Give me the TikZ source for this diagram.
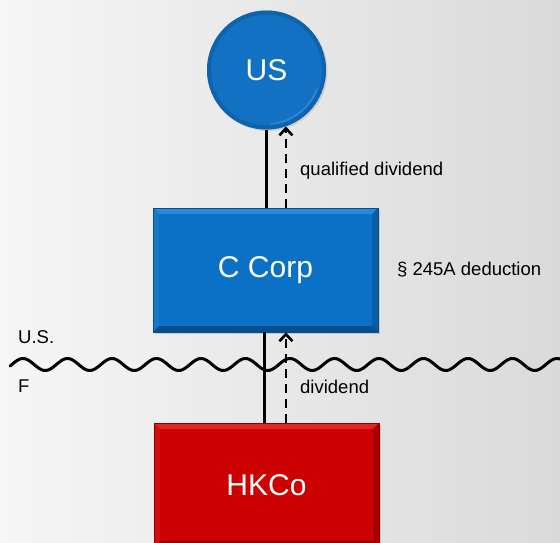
\documentclass[tikz,border=0pt]{standalone}
\usepackage{fontspec}
\setmainfont{Liberation Sans}
\usetikzlibrary{arrows.meta,shadows,calc}

\definecolor{bgleft}{HTML}{F6F6F6}
\definecolor{bgright}{HTML}{DADADA}
\definecolor{corpblue}{HTML}{0A71C6}
\definecolor{corpbluelight}{HTML}{2C88D8}
\definecolor{corpbluemid}{HTML}{1679CC}
\definecolor{corpbluedark}{HTML}{075DA6}
\definecolor{corpbluedeep}{HTML}{054F8E}
\definecolor{hkred}{HTML}{CC0202}
\definecolor{hkredlight}{HTML}{DE2626}
\definecolor{hkredmid}{HTML}{D40E0E}
\definecolor{hkreddark}{HTML}{A80000}
\definecolor{hkreddeep}{HTML}{8A0000}
\definecolor{usblue}{HTML}{1371C4}
\definecolor{usrim}{HTML}{0B5A9F}
\definecolor{ushigh}{HTML}{4A9CE0}

\tikzset{
  % rectangular entity with a bevelled edge
  bevelbox/.style n args={5}{
    rectangle, minimum width=225, minimum height=124, inner sep=0pt,
    fill=#1, draw=#5, line width=0.6pt, text=white,
    font=\fontsize{30}{34}\selectfont,
    drop shadow={opacity=0.3, shadow xshift=1.5pt, shadow yshift=-1.5pt},
    path picture={
      \def\bv{6}
      \coordinate (pnw) at (path picture bounding box.north west);
      \coordinate (pne) at (path picture bounding box.north east);
      \coordinate (psw) at (path picture bounding box.south west);
      \coordinate (pse) at (path picture bounding box.south east);
      \fill[#2] (pnw) -- (pne) -- ($(pne)+(-\bv,\bv)$) -- ($(pnw)+(\bv,\bv)$) -- cycle;
      \fill[#3] (pnw) -- ($(pnw)+(\bv,\bv)$) -- ($(psw)+(\bv,-\bv)$) -- (psw) -- cycle;
      \fill[#4] (pne) -- ($(pne)+(-\bv,\bv)$) -- ($(pse)+(-\bv,-\bv)$) -- (pse) -- cycle;
      \fill[#5] (psw) -- ($(psw)+(\bv,-\bv)$) -- ($(pse)+(-\bv,-\bv)$) -- (pse) -- cycle;
    }},
  country/.style={
    circle, minimum size=119, inner sep=0pt, fill=usblue, text=white,
    font=\fontsize{30}{34}\selectfont,
    drop shadow={opacity=0.25, shadow xshift=1.5pt, shadow yshift=-1.5pt},
    path picture={
      \draw[usrim, line width=4pt, opacity=0.6]
        (path picture bounding box.center) circle[radius=57.5];
      \draw[ushigh, line width=2pt, opacity=0.45]
        ($(path picture bounding box.center)+(20:54)$) arc[start angle=20, end angle=85, radius=54];
    }},
  label/.style={anchor=west, inner sep=0pt, text=black, font=\fontsize{18.5}{22}\selectfont},
  owns/.style={line width=2.6pt, black},
  flow/.style={line width=2.8pt, black, dash pattern=on 9pt off 6pt,
    -{Straight Barb[length=7pt, width=13pt, line width=2.6pt]}},
  border/.style={line width=3pt, black, line cap=round},
}

\begin{document}
\begin{tikzpicture}[x=1pt, y=-1pt]
  % backdrop
  \shade[left color=bgleft, right color=bgright] (0,0) rectangle (560,543);
  \useasboundingbox (0,0) rectangle (560,543);

  % U.S. / foreign divide
  \draw[border] plot[domain=10:560, samples=300, smooth]
    (\x, {364.5 - 6*cos((\x-23)/44.5*360)});
  \node[label] (lus) at (18,337) {U.S.};
  \node[label] (lf) at (18,386) {F};

  % entities
  \node[country] (us) at (266.5,70) {US};
  \node[bevelbox={corpblue}{corpbluelight}{corpbluemid}{corpbluedark}{corpbluedeep}]
    (ccorp) at (265.5,270) {C Corp};
  \node[bevelbox={hkred}{hkredlight}{hkredmid}{hkreddark}{hkreddeep}]
    (hkco) at (266.5,485) {HKCo};

  % ownership lines
  \draw[owns] (us.south) -- (us.south |- ccorp.north);
  \draw[owns] ([xshift=-1pt]ccorp.south) -- ([xshift=-1pt]ccorp.south |- hkco.north);

  % dividend flows
  \coordinate (tip) at (us.-71.4);
  \draw[flow] (tip |- ccorp.north) -- (tip);
  \draw[flow] (tip |- hkco.north) -- (tip |- ccorp.south);

  % labels
  \node[label] (lqd) at (300,171) {qualified dividend};
  \node[label] (lded) at (397,270) {\S\ 245A deduction};
  \node[label] (ldiv) at (300,387) {dividend};
\end{tikzpicture}
\end{document}
